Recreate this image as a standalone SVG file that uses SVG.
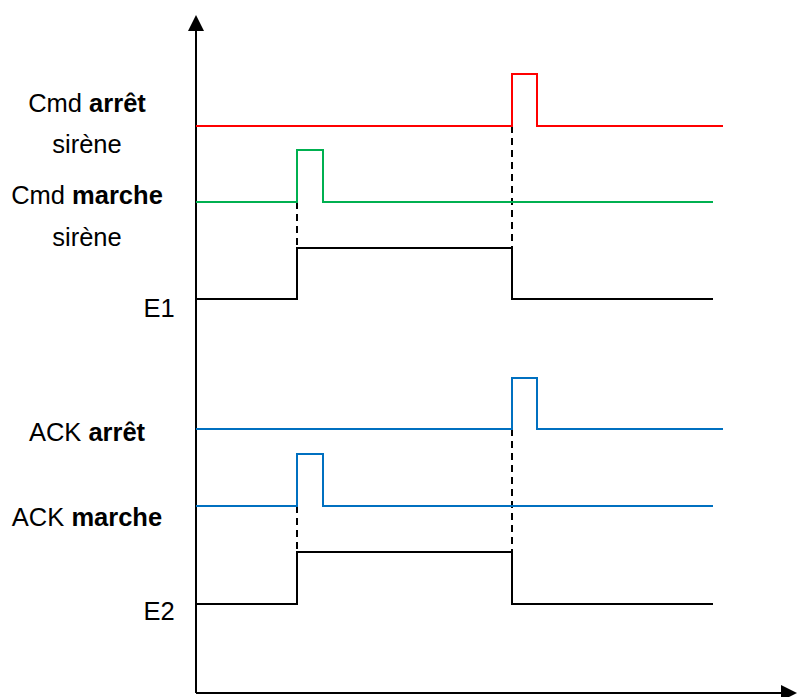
<svg xmlns="http://www.w3.org/2000/svg" width="797" height="697" viewBox="0 0 797 697">
<defs>
<style>
.sig{fill:none;stroke-width:2;stroke-linejoin:miter}
.red{stroke:#FF0000}
.green{stroke:#00B050}
.blue{stroke:#0070C0}
.blk{stroke:#000}
.dash{fill:none;stroke:#000;stroke-width:2;stroke-dasharray:7,5}
.axis{fill:none;stroke:#000;stroke-width:2}
.lbl{font-family:"Liberation Sans",Arial,sans-serif;font-size:25.5px;fill:#000;text-anchor:middle}
.b{font-weight:bold}
</style>
<marker id="arr" markerWidth="8" markerHeight="8" refX="7" refY="4" orient="auto" markerUnits="strokeWidth">
<path d="M0,0 L8,4 L0,8 z" fill="#000"/>
</marker>
</defs>
<rect width="797" height="697" fill="#fff"/>
<g id="axes">
<line class="axis" x1="196" y1="693" x2="196" y2="17" marker-end="url(#arr)"/>
<line class="axis" x1="196" y1="693" x2="795" y2="693" marker-end="url(#arr)"/>
</g>
<g id="connectors">
<line class="dash" x1="297" y1="202" x2="297" y2="248"/>
<line class="dash" x1="512" y1="126" x2="512" y2="248"/>
<line class="dash" x1="297" y1="506" x2="297" y2="552"/>
<line class="dash" x1="512" y1="429" x2="512" y2="552"/>
</g>
<g id="cmd-arret">
<polyline class="sig red" points="196,126 512,126 512,74 537,74 537,126 723,126"/>
<text class="lbl" x="87" y="112">Cmd <tspan class="b">arrêt</tspan></text>
<text class="lbl" x="87" y="153">sirène</text>
</g>
<g id="cmd-marche">
<polyline class="sig green" points="196,202 297,202 297,150 323,150 323,202 713,202"/>
<text class="lbl" x="87" y="204">Cmd <tspan class="b">marche</tspan></text>
<text class="lbl" x="87" y="246">sirène</text>
</g>
<g id="e1">
<polyline class="sig blk" points="196,299 297,299 297,248 512,248 512,299 713,299"/>
<text class="lbl" x="159" y="317">E1</text>
</g>
<g id="ack-arret">
<polyline class="sig blue" points="196,429 512,429 512,378 537,378 537,429 723,429"/>
<text class="lbl" x="87" y="441">ACK <tspan class="b">arrêt</tspan></text>
</g>
<g id="ack-marche">
<polyline class="sig blue" points="196,506 297,506 297,454 323,454 323,506 713,506"/>
<text class="lbl" x="87" y="526">ACK <tspan class="b">marche</tspan></text>
</g>
<g id="e2">
<polyline class="sig blk" points="196,604 297,604 297,552 512,552 512,604 713,604"/>
<text class="lbl" x="159" y="620">E2</text>
</g>
</svg>
